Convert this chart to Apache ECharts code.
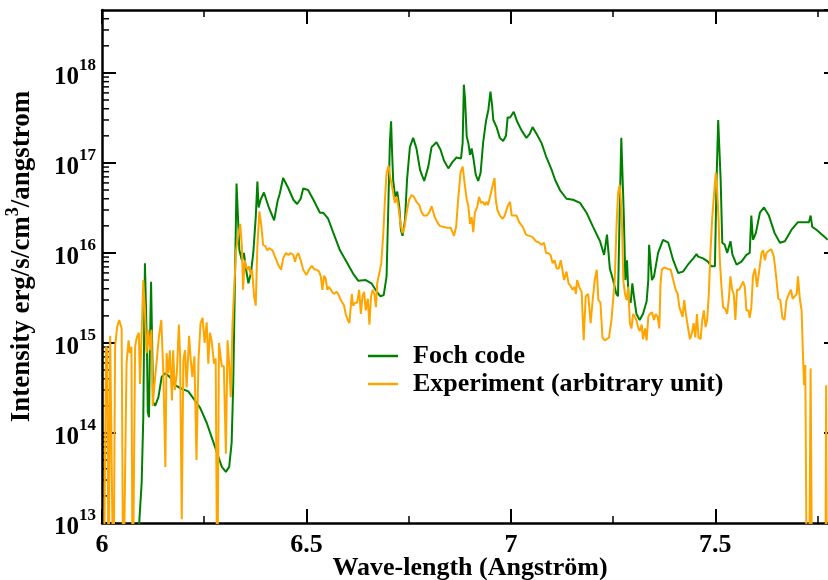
<!DOCTYPE html>
<html>
<head>
<meta charset="utf-8">
<script src="https://cdn.jsdelivr.net/npm/echarts@6/dist/echarts.min.js"></script>
<style>
html,body{margin:0;padding:0;background:#fff;}
#chart{width:828px;height:580px;}
</style>
</head>
<body>
<div id="chart"></div>
<script>
// Foch code (green)
const focX = [6.070,6.091,6.097,6.101,6.103,6.105,6.108,6.110,6.112,6.115,6.117,6.120,6.121,6.123,6.125,6.130,6.138,6.146,6.154,6.166,6.178,6.195,6.211,6.227,6.240,6.256,6.276,6.293,6.303,6.311,6.317,6.321,6.325,6.329,6.332,6.336,6.342,6.347,6.352,6.358,6.364,6.370,6.376,6.380,6.383,6.388,6.396,6.407,6.421,6.429,6.435,6.443,6.456,6.468,6.477,6.486,6.492,6.504,6.517,6.533,6.541,6.553,6.566,6.582,6.598,6.614,6.627,6.645,6.659,6.672,6.681,6.689,6.696,6.700,6.704,6.707,6.709,6.712,6.717,6.722,6.727,6.731,6.735,6.741,6.746,6.753,6.761,6.769,6.778,6.788,6.798,6.806,6.810,6.818,6.828,6.836,6.847,6.857,6.867,6.878,6.882,6.885,6.888,6.892,6.896,6.900,6.904,6.908,6.914,6.920,6.926,6.932,6.939,6.945,6.950,6.954,6.957,6.965,6.973,6.981,6.988,6.992,6.998,7.007,7.015,7.026,7.038,7.046,7.053,7.063,7.075,7.087,7.100,7.108,7.120,7.136,7.152,7.169,7.185,7.201,7.218,7.228,7.231,7.235,7.238,7.242,7.250,7.258,7.262,7.266,7.270,7.273,7.276,7.280,7.284,7.288,7.293,7.297,7.301,7.307,7.315,7.323,7.332,7.336,7.338,7.341,7.345,7.350,7.360,7.372,7.385,7.397,7.409,7.421,7.433,7.446,7.454,7.458,7.470,7.482,7.490,7.499,7.503,7.507,7.511,7.513,7.517,7.523,7.529,7.537,7.542,7.552,7.564,7.576,7.584,7.588,7.592,7.599,7.609,7.619,7.631,7.645,7.658,7.670,7.686,7.702,7.719,7.729,7.733,7.737,7.748,7.764,7.775];
const focY = [1e12,1e13,2.8e13,1.5e14,1.2e15,7.7e15,7.5e15,8.3e14,1.7e14,1.5e14,8.3e14,4.8e15,4.6e15,8e14,2.2e14,2e14,2.5e14,4.2e14,4.6e14,4.2e14,3.4e14,3.1e14,2.9e14,2.3e14,1.9e14,1.3e14,7.1e13,4.2e13,3.7e13,4.2e13,7.7e13,3.5e14,4.6e15,5.9e16,5.9e16,1.07e16,8.3e15,1.0e16,6.7e15,4.6e15,5.9e15,1.0e16,2.5e16,6.2e16,3.2e16,3.9e16,4.7e16,3.3e16,2.3e16,3.7e16,4.6e16,6.8e16,5.2e16,3.9e16,3.5e16,4.0e16,5.2e16,5.0e16,3.9e16,2.8e16,2.8e16,2.4e16,1.66e16,1.07e16,8e15,5.9e15,4.9e15,5e15,4.6e15,3.7e15,3.3e15,3.4e15,5.5e15,3.0e16,1.66e17,2.9e17,1.5e17,6.5e16,4.2e16,4.8e16,3.3e16,1.8e16,1.55e16,2.3e16,6.5e16,1.5e17,1.9e17,1.45e17,8.3e16,6.3e16,9.1e16,1.5e17,1.45e17,1.7e17,1.4e17,1.07e17,8.7e16,1.02e17,1.15e17,1.12e17,1.66e17,7.4e17,5.0e17,1.95e17,1.66e17,1.23e17,1.45e17,1.15e17,7.4e16,6.3e16,7.8e16,1.66e17,2.9e17,3.9e17,6.2e17,4.4e17,3.0e17,2.5e17,1.9e17,1.75e17,2.0e17,3.2e17,3.2e17,3.7e17,2.9e17,2.3e17,1.9e17,2.1e17,2.5e17,2.1e17,1.66e17,1.15e17,8.3e16,6.5e16,5.0e16,4.0e16,3.9e16,3.6e16,2.8e16,1.95e16,1.35e16,9.5e15,9.1e15,1.6e16,1.55e16,6.7e15,5.0e15,3.5e15,3.3e15,2.8e16,1.9e17,1.95e17,2.8e16,5e15,8.3e15,3.0e15,2.8e15,4.6e15,3.3e15,2.1e15,1.8e15,2.1e15,2.9e15,5e15,1.23e16,1.2e16,5e15,5.5e15,1e16,1.4e16,1.3e16,8.3e15,6.0e15,6.2e15,7.4e15,8.7e15,9.7e15,9.1e15,8.7e15,8e15,7.1e15,7.1e15,6.5e16,3.0e17,2.9e17,6.5e16,1.3e16,1.23e16,1e16,1.35e16,9.5e15,7.4e15,8e15,9.5e15,1e16,2.6e16,1.4e16,1.66e16,2.8e16,3.2e16,2.6e16,1.66e16,1.3e16,1.35e16,1.8e16,2.2e16,2.2e16,2.2e16,2.6e16,1.95e16,1.8e16,1.55e16,1.4e16];

// Experiment (arbitrary unit) (orange)
const expX = [6.004,6.010,6.013,6.016,6.020,6.024,6.028,6.032,6.037,6.042,6.048,6.052,6.056,6.060,6.065,6.068,6.072,6.075,6.078,6.081,6.085,6.090,6.093,6.097,6.101,6.105,6.109,6.113,6.117,6.121,6.124,6.130,6.134,6.139,6.145,6.150,6.155,6.158,6.162,6.166,6.171,6.174,6.178,6.183,6.188,6.191,6.195,6.199,6.203,6.207,6.213,6.217,6.221,6.226,6.231,6.236,6.241,6.246,6.251,6.256,6.260,6.264,6.268,6.274,6.278,6.282,6.286,6.293,6.298,6.303,6.307,6.311,6.315,6.319,6.323,6.328,6.333,6.338,6.342,6.345,6.349,6.352,6.356,6.359,6.364,6.367,6.372,6.376,6.380,6.385,6.390,6.394,6.399,6.404,6.409,6.417,6.423,6.431,6.438,6.443,6.450,6.456,6.461,6.468,6.472,6.476,6.480,6.486,6.492,6.500,6.507,6.513,6.519,6.525,6.531,6.535,6.539,6.543,6.547,6.551,6.555,6.559,6.563,6.567,6.574,6.579,6.584,6.588,6.592,6.596,6.601,6.605,6.611,6.614,6.619,6.624,6.629,6.633,6.637,6.641,6.645,6.650,6.654,6.658,6.662,6.666,6.670,6.673,6.678,6.683,6.688,6.692,6.696,6.701,6.706,6.711,6.716,6.721,6.725,6.730,6.735,6.740,6.745,6.751,6.757,6.763,6.769,6.776,6.782,6.787,6.794,6.800,6.806,6.810,6.814,6.820,6.826,6.834,6.844,6.853,6.861,6.866,6.871,6.877,6.882,6.887,6.892,6.896,6.900,6.904,6.908,6.912,6.918,6.922,6.927,6.932,6.936,6.941,6.944,6.949,6.955,6.960,6.963,6.967,6.973,6.980,6.985,6.992,6.998,7.002,7.007,7.014,7.020,7.029,7.037,7.045,7.053,7.061,7.069,7.075,7.081,7.086,7.091,7.097,7.102,7.107,7.112,7.117,7.122,7.126,7.130,7.136,7.141,7.146,7.151,7.156,7.159,7.162,7.167,7.173,7.178,7.183,7.189,7.195,7.200,7.205,7.210,7.214,7.219,7.224,7.230,7.234,7.240,7.246,7.254,7.258,7.262,7.266,7.271,7.275,7.279,7.283,7.287,7.291,7.295,7.299,7.303,7.307,7.311,7.315,7.320,7.323,7.328,7.332,7.336,7.340,7.345,7.350,7.354,7.359,7.363,7.366,7.369,7.375,7.382,7.391,7.397,7.403,7.408,7.412,7.416,7.420,7.424,7.428,7.433,7.438,7.443,7.447,7.451,7.455,7.459,7.464,7.468,7.472,7.476,7.480,7.484,7.488,7.492,7.497,7.501,7.504,7.508,7.511,7.515,7.519,7.524,7.529,7.533,7.537,7.541,7.545,7.549,7.553,7.558,7.564,7.568,7.572,7.576,7.581,7.584,7.588,7.592,7.597,7.602,7.607,7.613,7.617,7.621,7.625,7.632,7.637,7.643,7.648,7.654,7.659,7.664,7.669,7.674,7.680,7.685,7.689,7.694,7.699,7.702,7.707,7.711,7.715,7.717,7.720,7.724,7.729,7.733,7.737,7.750,7.769,7.771,7.773];
const expY = [1e12,9.1e14,8.3e14,1e12,1.2e15,1.15e15,1e12,9.1e14,1.5e15,1.8e15,1.45e15,1e12,1e12,5.9e14,1.07e15,7.7e14,9.1e14,1e12,1e12,9.1e14,1.15e15,1.3e15,3.5e14,1.3e15,5e15,2.3e15,7.7e14,1.4e15,8.3e14,1.4e15,2.0e14,4.2e14,6.5e14,1.15e15,1.8e15,4.6e14,4.2e13,7.7e14,4.6e14,8.3e14,2.3e14,8.3e14,3.0e14,4.6e14,1.6e15,7.1e14,1.1e13,6.5e14,8.3e14,3.2e14,1.2e15,6.5e14,4.2e14,7.1e14,5e13,6.5e14,1.66e15,1.9e15,1.0e15,1.7e15,5.9e14,1.3e15,1.07e15,5.9e14,6.7e14,1e12,1e15,5.5e14,5.5e14,5.9e13,1.07e15,5.9e14,2.5e14,1.5e15,3.9e15,1.07e16,1.55e16,2.1e16,1.2e16,3.9e15,8.3e15,7.1e15,6.5e15,7.1e15,5.7e15,6.5e15,3.3e15,2.6e15,1.2e16,2.9e16,1.95e16,1.23e16,1.2e16,1.07e16,1.13e16,1.07e16,9.1e15,7.4e15,6.5e15,8.7e15,1e16,9.5e15,1.0e16,9.5e15,8e15,9.3e15,1.0e16,8.3e15,6.5e15,5.7e15,6.6e15,7.2e15,6.6e15,6.5e15,6.2e15,5.5e15,3.9e15,5.6e15,5.2e15,3.9e15,4.2e15,4.4e15,3.7e15,3.5e15,3.7e15,3.4e15,3.0e15,3.1e15,2.6e15,2.1e15,1.8e15,1.66e15,3.5e15,2.6e15,2.8e15,2.8e15,3.9e15,2.1e15,3.3e15,3.7e15,2.3e15,3.1e15,1.6e15,3.3e15,3.9e15,3.5e15,2.5e15,4.6e15,5.9e15,7.7e15,1.66e16,3.9e16,7.8e16,9.3e16,6.5e16,5.0e16,3.6e16,4.2e16,3.2e16,2.1e16,1.66e16,1.95e16,2.8e16,3.9e16,4.4e16,4.2e16,3.7e16,3.4e16,2.8e16,2.6e16,2.6e16,2.8e16,3.3e16,3.2e16,2.5e16,2.2e16,2.0e16,1.95e16,1.9e16,1.9e16,1.55e16,1.95e16,3.9e16,7.9e16,9.1e16,5.9e16,3.9e16,3.3e16,2.1e16,2.5e16,1.7e16,2.8e16,3.3e16,4.2e16,3.6e16,3.7e16,3.4e16,3.7e16,3.4e16,4.2e16,5.5e16,6.8e16,3.9e16,3.0e16,2.6e16,2.4e16,2.6e16,3.3e16,3.7e16,2.6e16,2.6e16,2.6e16,2.2e16,1.95e16,1.6e16,1.55e16,1.5e16,1.35e16,1.3e16,1.23e16,1.3e16,1.0e16,1.0e16,9.5e15,7.7e15,8.3e15,6.7e15,6.7e15,8.3e15,6.5e15,5e15,6.2e15,4.6e15,4.3e15,3.9e15,4.2e15,3.5e15,5e15,4.2e15,3.7e15,1.07e15,3.3e15,3.5e15,1.66e15,3.0e15,5e15,6.5e15,3.0e15,2.8e15,1.15e15,1.07e15,1.07e15,1.15e15,1.8e15,5e15,1.8e16,4.6e16,5.7e16,2.8e16,5e15,3.5e15,3.0e15,4.2e15,1.66e15,1.45e15,2.1e15,1.95e15,1.8e15,1.5e15,1.35e15,1.6e15,1.1e15,1.45e15,1.07e15,1.95e15,2.1e15,2.2e15,1.8e15,2.1e15,1.95e15,1.45e15,4.6e15,6.5e15,6.9e15,6.7e15,6.5e15,5e15,3.9e15,3.5e15,2.5e15,2.5e15,1.95e15,3.0e15,2.1e15,1.5e15,1.1e15,1.3e15,1.66e15,1.15e15,2.1e15,1.15e15,1.1e15,1.8e15,2.3e15,1.5e15,1.8e15,3.5e15,1e16,2.3e16,4.6e16,7.8e16,5.5e16,2.3e16,8.3e15,4.2e15,2.5e15,2.4e15,2.1e15,3.1e15,5.5e15,3.9e15,3.5e15,1.8e15,3.9e15,3.9e15,4.4e15,4.8e15,4.2e15,2.3e15,2.3e15,1.9e15,2.5e15,5.5e15,6.7e15,4.2e15,6.2e15,1e16,1.07e16,8.3e15,1e16,1.07e16,1.1e16,9.1e15,5.9e15,3.1e15,3.0e15,1.9e15,1.8e15,3.0e15,3.5e15,3.9e15,3.1e15,3.3e15,3.5e15,5.5e15,3.0e15,2.3e15,5.9e14,3.4e14,5.7e14,1e12,1e12,5.2e14,1e12,1e12,1e12,3.4e14,1e12];

// Axis settings / tick values
const xMin = 6, xMax = 7.8, xInterval = 0.5;
const yMin = 1e13, yMax = 5e18;
const yMinorTicks = [];
const yDecades = [13,14,15,16,17,18];
const yMinorMantissas = [2,3,4,5,6,7,8,9];
yDecades.forEach(d => yMinorMantissas.forEach(m => { const v = m * Math.pow(10, d); if (v < yMax) yMinorTicks.push(v); }));

const legendNames = ['Foch code', 'Experiment (arbitrary unit)'];
const xTitle = 'Wave-length (Angström)';

const serif = 'Liberation Serif';
const chart = echarts.init(document.getElementById('chart'), null, {renderer: 'canvas'});

const supRich = {
  b: {fontFamily: serif, fontWeight: 'bold', fontSize: 25, color: '#000', padding: [10,0,0,0]},
  s: {fontFamily: serif, fontWeight: 'bold', fontSize: 17, color: '#000', padding: [0,0,15,0]}
};

const axisLineStyle = {color: '#000', width: 2.5};

chart.setOption({
  animation: false,
  backgroundColor: '#fff',
  grid: {left: 102, top: 10, right: -10, bottom: 57, containLabel: false, outerBoundsMode: 'none'},
  legend: {
    data: legendNames,
    orient: 'vertical',
    left: 363, top: 338,
    itemWidth: 30, itemHeight: 2.5, itemGap: 2,
    icon: 'rect',
    textStyle: {fontFamily: serif, fontWeight: 'bold', fontSize: 26, color: '#000', lineHeight: 26, padding: [0,0,0,10]}
  },
  xAxis: [{
    type: 'value', min: xMin, max: xMax, interval: xInterval, position: 'bottom',
    axisLine: {show: true, onZero: false, lineStyle: axisLineStyle},
    axisTick: {show: true, inside: true, length: 14, lineStyle: {color: '#000', width: 2}},
    minorTick: {show: true, splitNumber: 2, length: 7, lineStyle: {color: '#000', width: 1.5}},
    axisLabel: {show: true, margin: 9, showMaxLabel: false, fontFamily: serif, fontWeight: 'bold', fontSize: 26, color: '#000',
      formatter: v => String(v)},
    splitLine: {show: false},
    name: xTitle, nameLocation: 'middle', nameGap: 32, nameMoveOverlap: false,
    nameTextStyle: {fontFamily: serif, fontWeight: 'bold', fontSize: 26, color: '#000'}
  }, {
    type: 'value', min: xMin, max: xMax, interval: xInterval, position: 'top',
    axisLine: {show: true, onZero: false, lineStyle: axisLineStyle},
    axisTick: {show: true, inside: true, length: 14, lineStyle: {color: '#000', width: 2}},
    minorTick: {show: true, splitNumber: 2, length: 7, lineStyle: {color: '#000', width: 1.5}},
    axisLabel: {show: false}, splitLine: {show: false}
  }],
  yAxis: [{
    type: 'log', logBase: 10, min: yMin, max: yMax, position: 'left',
    axisLine: {show: true, onZero: false, lineStyle: axisLineStyle},
    axisTick: {show: true, inside: true, length: 14, lineStyle: {color: '#000', width: 2}},
    axisLabel: {show: true, margin: 6, showMaxLabel: false,
      formatter: v => '{b|10}{s|' + Math.round(Math.log10(v)) + '}', rich: supRich},
    splitLine: {show: false},
    name: 'Intensity erg/s/cm{s|3}/angstrom', nameLocation: 'middle', nameGap: 62,
    nameTextStyle: {fontFamily: serif, fontWeight: 'bold', fontSize: 27, color: '#000', padding: [0,0,0,20],
      rich: {s: {fontFamily: serif, fontWeight: 'bold', fontSize: 18, color: '#000', padding: [0,0,18,0]}}}
  }, {
    type: 'log', logBase: 10, min: yMin, max: yMax, position: 'right',
    axisLine: {show: true, onZero: false, lineStyle: axisLineStyle},
    axisTick: {show: true, inside: true, length: 14, lineStyle: {color: '#000', width: 2}},
    axisLabel: {show: false}, splitLine: {show: false}
  }],
  series: [{
    name: legendNames[0], type: 'line', xAxisIndex: 0, yAxisIndex: 0,
    data: focX.map((x, i) => [x, focY[i]]),
    showSymbol: false, symbol: 'none', clip: true,
    lineStyle: {color: '#008000', width: 2}, itemStyle: {color: '#008000'}
  }, {
    name: legendNames[1], type: 'line', xAxisIndex: 0, yAxisIndex: 0,
    data: expX.map((x, i) => [x, expY[i]]),
    showSymbol: false, symbol: 'none', clip: true,
    lineStyle: {color: '#FFA500', width: 2}, itemStyle: {color: '#FFA500'}
  }, {
    name: 'minorTicks', type: 'custom', xAxisIndex: 0, yAxisIndex: 0, silent: true, clip: false,
    data: yMinorTicks.map(v => [xMin, v]),
    renderItem: (params, api) => {
      const p = api.coord([api.value(0), api.value(1)]);
      return {type: 'line', shape: {x1: p[0], y1: p[1], x2: p[0] + 7, y2: p[1]},
        style: {stroke: '#000', lineWidth: 1.5}};
    }
  }]
});
</script>
</body>
</html>
